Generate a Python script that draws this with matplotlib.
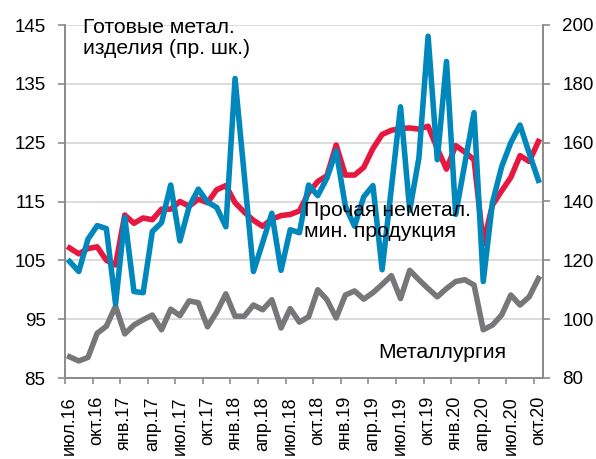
import matplotlib
matplotlib.use("Agg")
import matplotlib.pyplot as plt
from matplotlib.ticker import FixedLocator, NullFormatter

plt.rcParams["font.family"] = ["Liberation Sans", "DejaVu Sans"]

# monthly indices, июл.16 ... окт.20 (52 months)
tick_labels = ["июл.16", "окт.16", "янв.17", "апр.17", "июл.17", "окт.17",
               "янв.18", "апр.18", "июл.18", "окт.18", "янв.19", "апр.19",
               "июл.19", "окт.19", "янв.20", "апр.20", "июл.20", "окт.20"]

# Прочая неметал. мин. продукция (left scale)
nonmetal = [107.1, 106.1, 107.0, 107.3, 105.0, 104.2, 112.7, 111.3, 112.2, 111.9,
            113.7, 113.7, 115.0, 114.2, 115.4, 114.8, 117.0, 117.7, 114.8, 113.2,
            111.8, 110.8, 112.0, 112.6, 112.8, 113.4, 116.5, 118.4, 119.4, 124.6,
            119.5, 119.5, 120.8, 124.0, 126.4, 127.1, 127.4, 127.5, 127.3, 127.8,
            124.0, 120.5, 124.5, 123.4, 122.1, 107.8, 114.4, 116.8, 119.1, 122.8,
            121.8, 125.2]

# Металлургия (left scale)
metallurgy = [88.6, 87.9, 88.5, 92.6, 93.8, 97.2, 92.5, 94.0, 94.9, 95.7,
              93.2, 96.7, 95.6, 98.1, 97.8, 93.7, 96.2, 99.3, 95.5, 95.5,
              97.4, 96.6, 98.3, 93.5, 96.8, 94.5, 95.4, 100.0, 98.3, 95.2,
              99.1, 99.8, 98.4, 99.5, 100.9, 102.4, 98.5, 103.3, 101.7, 100.2,
              98.8, 100.2, 101.4, 101.7, 100.8, 93.2, 94.0, 95.7, 99.1, 97.4,
              98.8, 101.9]

# Готовые метал. изделия (right scale)
metal_products = [119.6, 116.2, 127.2, 131.8, 130.8, 105.2, 134.6, 109.4, 109.0, 129.8,
                  132.8, 145.6, 126.6, 138.2, 144.2, 139.8, 138.0, 131.4, 181.8, 149.0,
                  116.2, 126.0, 136.0, 116.6, 130.4, 129.4, 145.6, 142.0, 148.0, 157.2,
                  138.4, 131.6, 141.6, 145.4, 116.8, 144.4, 172.2, 137.0, 154.8, 196.2,
                  154.2, 187.6, 135.6, 153.0, 170.2, 112.8, 139.6, 151.8, 160.0, 166.0,
                  156.4, 147.2]

RED = "#E8173F"
BLUE = "#0088BD"
GREY = "#77777A"
AXIS = "#8C8C8C"
GRID = "#D9D9D9"
LW = 4.0

fig = plt.figure(figsize=(5.96, 4.59), dpi=100)
ax = fig.add_axes([65 / 596, 1 - 378 / 459, 478 / 596, 353 / 459])
ax2 = ax.twinx()

x = list(range(len(nonmetal)))
ax.plot(x, metallurgy, color=GREY, lw=LW, solid_joinstyle="round")
ax.plot(x, nonmetal, color=RED, lw=LW, solid_joinstyle="round")
ax2.plot(x, metal_products, color=BLUE, lw=LW, solid_joinstyle="round")

ax.set_xlim(-0.5, len(x) - 0.5)
ax.set_ylim(85, 145)
ax.set_yticks(range(85, 146, 10))
ax2.set_ylim(80, 200)
ax2.set_yticks(range(80, 201, 20))

ax.grid(axis="y", color=GRID, lw=1.3)
ax.set_axisbelow(True)

# x: tick marks at category boundaries, labels centred on categories
ax.xaxis.set_major_locator(FixedLocator([i - 0.5 for i in range(0, len(x), 3)]))
ax.xaxis.set_major_formatter(NullFormatter())
ax.set_xticks(list(range(0, len(x), 3)), minor=True)
ax.set_xticklabels(tick_labels, minor=True, rotation=90, va="top", ha="center")
ax.tick_params(axis="x", which="major", length=4, width=1.2, color=AXIS, direction="out")
ax.tick_params(axis="x", which="minor", length=0, pad=13, labelsize=13)

ax.tick_params(axis="y", length=5, width=1.2, color=AXIS, pad=9, labelsize=13.5)
ax2.tick_params(axis="y", length=5, width=1.2, color=AXIS, pad=9, labelsize=13.5)

for a in (ax, ax2):
    a.spines["top"].set_visible(False)
    for s in ("left", "right", "bottom"):
        a.spines[s].set_color(AXIS)
        a.spines[s].set_linewidth(1.3)

fs = 15.2
fig.text(83 / 596, 1 - 54 / 459, "Готовые метал.\nизделия (пр. шк.)",
         fontsize=fs, va="baseline", ha="left", linespacing=1.15)
fig.text(304 / 596, 1 - 236.7 / 459, "Прочая неметал.\nмин. продукция",
         fontsize=fs, va="baseline", ha="left", linespacing=1.1)
fig.text(378 / 596, 1 - 358.3 / 459, "Металлургия",
         fontsize=fs, va="baseline", ha="left")

fig.savefig("out.png", dpi=100, facecolor="white")
